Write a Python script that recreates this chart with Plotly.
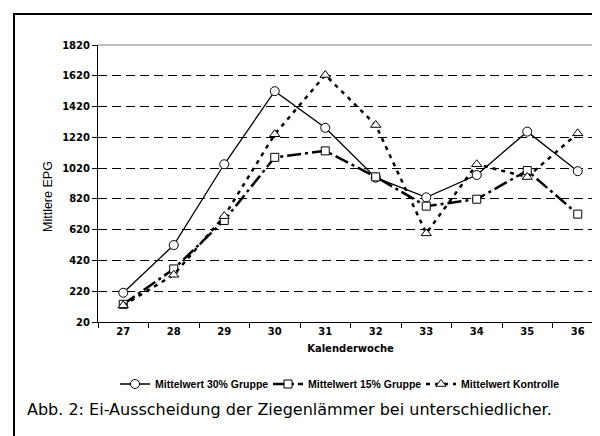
import plotly.graph_objects as go

weeks = ["27", "28", "29", "30", "31", "32", "33", "34", "35", "36"]
grp30 = [210, 520, 1045, 1520, 1282, 958, 830, 975, 1257, 1000]
grp15 = [135, 365, 680, 1090, 1132, 963, 773, 818, 1004, 721]
kontrolle = [128, 327, 708, 1240, 1625, 1300, 596, 1045, 962, 1246]
names = ["Mittelwert 30% Gruppe", "Mittelwert 15% Gruppe", "Mittelwert Kontrolle"]
yticks = list(range(20, 1821, 200))
caption = "Abb. 2: Ei-Ausscheidung der Ziegenlämmer bei unterschiedlicher."
ytitle = "Mittlere EPG"
xtitle = "Kalenderwoche"

W, H = 600, 436
L, R, T, B = 90, 5, 37, 122
pw, ph = W - L - R, H - T - B


def px(x):
    return (x - L) / pw


def py(y):
    return (H - B - y) / ph


ARIAL = "Liberation Sans, Arial, sans-serif"
WIDE = "DejaVu Sans, sans-serif"

fig = go.Figure()
fig.add_trace(go.Scatter(
    x=weeks, y=grp30, name=names[0], mode="lines+markers",
    line=dict(color="black", width=1.3),
    marker=dict(symbol="circle", size=9, color="white", line=dict(color="black", width=1)),
))
fig.add_trace(go.Scatter(
    x=weeks, y=grp15, name=names[1], mode="lines+markers",
    line=dict(color="black", width=2.5, dash="14px,4px,3px,4px"),
    marker=dict(symbol="square", size=8, color="white", line=dict(color="black", width=1)),
))
fig.add_trace(go.Scatter(
    x=weeks, y=kontrolle, name=names[2], mode="lines+markers",
    line=dict(color="black", width=2.5, dash="4px,5px"),
    marker=dict(symbol="triangle-up", size=9, color="white", line=dict(color="black", width=1)),
))

shapes = [
    dict(type="line", xref="paper", yref="paper", x0=0, x1=1, y0=1, y1=1,
         line=dict(color="#808080", width=1)),
    dict(type="line", xref="paper", yref="paper", x0=1, x1=1, y0=0, y1=1,
         line=dict(color="#808080", width=1)),
    dict(type="rect", xref="paper", yref="paper", x0=px(6), x1=px(602), y0=py(440), y1=py(6),
         line=dict(color="black", width=2), layer="below"),
]

fig.update_layout(
    width=W, height=H,
    margin=dict(l=L, r=R, t=T, b=B),
    paper_bgcolor="white", plot_bgcolor="white",
    font=dict(family=WIDE, color="black", size=10),
    showlegend=True,
    legend=dict(orientation="h", x=px(107), xanchor="left", y=py(376), yanchor="middle",
                font=dict(family=ARIAL, size=10.5, weight="bold"), itemwidth=30,
                entrywidth=108, entrywidthmode="pixels",
                bgcolor="rgba(0,0,0,0)"),
    shapes=shapes,
    annotations=[
        dict(text=caption, xref="paper", yref="paper", x=px(17), y=py(401),
             xanchor="left", yanchor="middle", showarrow=False,
             font=dict(family=WIDE, size=16, color="black")),
        dict(text=ytitle, xref="paper", yref="paper", x=px(40), y=py(189),
             xanchor="center", yanchor="middle", showarrow=False, textangle=-90,
             font=dict(family=ARIAL, size=12.5, color="black")),
    ],
)
fig.update_xaxes(
    type="category", range=[-0.5, 9.5], tickson="boundaries", ticks="outside", ticklen=5,
    tickcolor="black", showline=True, linecolor="black", linewidth=1, showgrid=False,
    tickfont=dict(family=WIDE, size=10, weight="bold"),
    title=dict(text=xtitle, font=dict(family=WIDE, size=10, weight="bold"), standoff=8),
)
fig.update_yaxes(
    range=[20, 1820], tickvals=yticks, ticks="outside", ticklen=5, tickcolor="black",
    showline=True, linecolor="black", linewidth=1, zeroline=False,
    showgrid=True, gridcolor="black", gridwidth=1, griddash="9px,5px",
    tickfont=dict(family=WIDE, size=10, weight="bold"),
)

fig.write_html("out.html")
